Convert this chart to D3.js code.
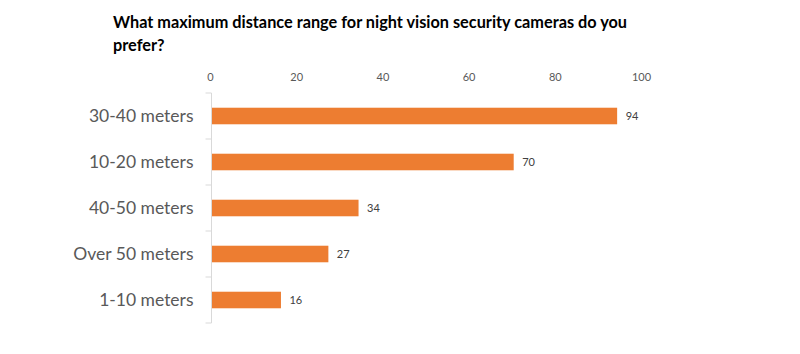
<!DOCTYPE html>
<html>
<head>
<meta charset="utf-8">
<script src="https://cdn.jsdelivr.net/npm/d3@7"></script>
<style>
	body { margin: 0; background: #fff; }
	svg { display: block; font-family: Lato, 'Open Sans', sans-serif; }
</style>
</head>
<body>
<svg></svg>
<script>
const categories = ['30-40 meters', '10-20 meters', '40-50 meters', 'Over 50 meters', '1-10 meters'];
const values = [94, 70, 34, 27, 16];
const xTicks = [0, 20, 40, 60, 80, 100];
const titleLines = ['What maximum distance range for night vision security cameras do you', 'prefer?'];

const width = 800;
const height = 354;
const margin = { top: 93, right: 158, bottom: 31, left: 211.5 };
const innerWidth = width - margin.left - margin.right;
const innerHeight = height - margin.top - margin.bottom;

const svg = d3.select('svg')
	.attr('width', width)
	.attr('height', height);

svg.append('g')
	.selectAll('text')
	.data(titleLines)
	.enter().append('text')
		.attr('x', 113)
		.attr('y', (d, i) => 28 + i * 23)
		.attr('font-size', 16.3)
		.attr('font-weight', 'bold')
		.attr('fill', '#000')
		.text(d => d);

const xScale = d3.scaleLinear()
	.domain([0, 100])
	.range([0, 431]);

const yScale = d3.scaleBand()
	.domain(categories)
	.range([0, innerHeight])
	.paddingInner(0.64)
	.paddingOuter(0.32);

const g = svg.append('g')
	.attr('transform', `translate(${margin.left},${margin.top})`);

// top tick labels only, no lines
const xAxisG = g.append('g')
	.attr('transform', 'translate(-1.5,-12)')
	.call(d3.axisTop(xScale).tickValues(xTicks).tickSize(0).tickPadding(0));
xAxisG.select('.domain').remove();
xAxisG.selectAll('text')
	.attr('font-family', 'Lato, sans-serif')
	.attr('font-size', 11)
	.attr('fill', '#595959');

// left axis with boundary ticks
const yAxisG = g.append('g');
yAxisG.append('line')
	.attr('x1', 0).attr('x2', 0)
	.attr('y1', 0).attr('y2', innerHeight)
	.attr('stroke', '#d9d9d9');
yAxisG.selectAll('line.tick')
	.data(d3.range(categories.length + 1))
	.enter().append('line')
		.attr('class', 'tick')
		.attr('x1', -6).attr('x2', 0)
		.attr('y1', i => i * innerHeight / categories.length)
		.attr('y2', i => i * innerHeight / categories.length)
		.attr('stroke', '#d9d9d9');

yAxisG.selectAll('text')
	.data(categories)
	.enter().append('text')
		.attr('x', -18)
		.attr('y', d => yScale(d) + yScale.bandwidth() / 2 + 6)
		.attr('text-anchor', 'end')
		.attr('font-size', 17.5)
		.attr('fill', '#595959')
		.text(d => d);

g.selectAll('rect')
	.data(values)
	.enter().append('rect')
		.attr('x', 0.5)
		.attr('y', (d, i) => yScale(categories[i]))
		.attr('width', d => xScale(d))
		.attr('height', yScale.bandwidth())
		.attr('fill', '#ED7D31');

g.selectAll('text.value')
	.data(values)
	.enter().append('text')
		.attr('class', 'value')
		.attr('x', d => xScale(d) + 9)
		.attr('y', (d, i) => yScale(categories[i]) + yScale.bandwidth() / 2 + 4)
		.attr('font-size', 11)
		.attr('fill', '#404040')
		.text(d => d);
</script>
</body>
</html>
